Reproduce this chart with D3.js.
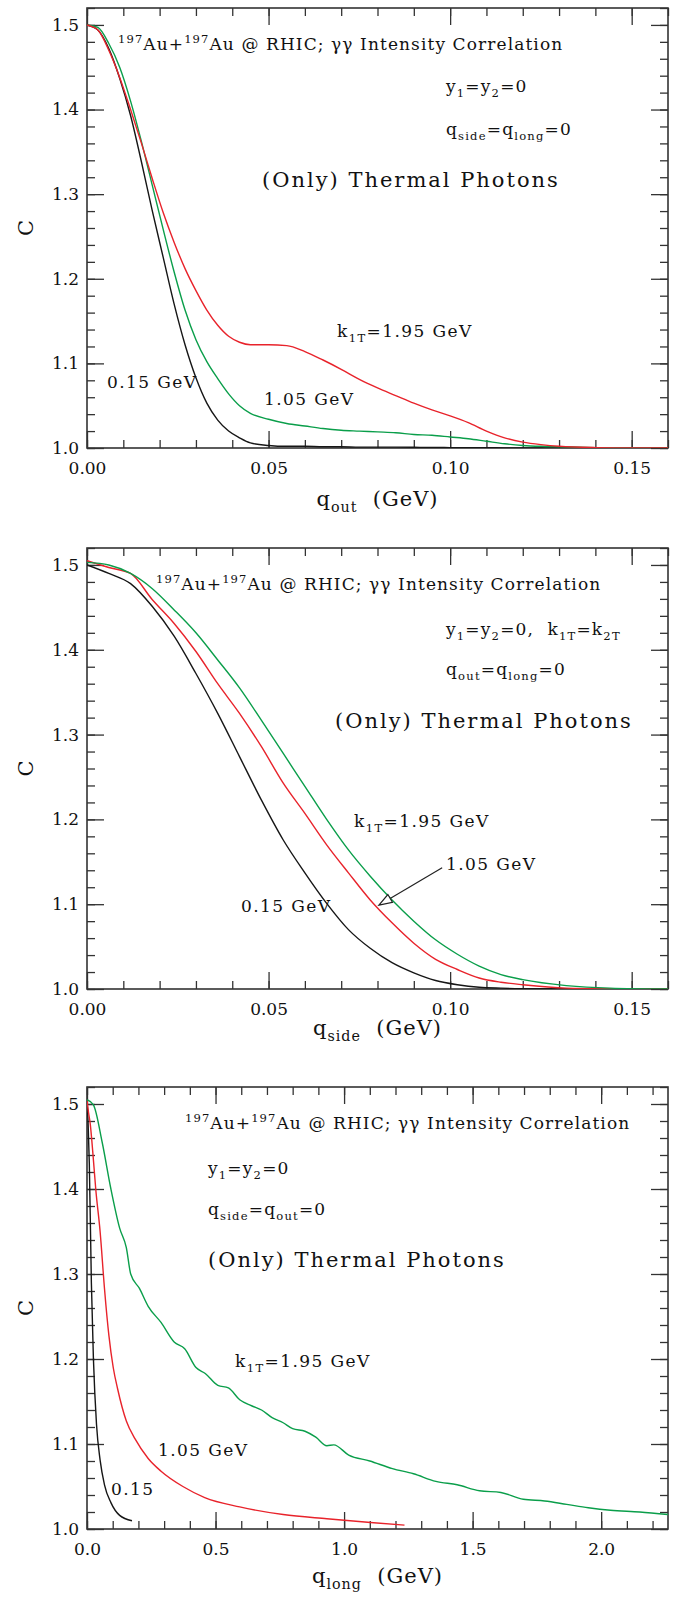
<!DOCTYPE html>
<html>
<head>
<meta charset="utf-8">
<script src="https://cdn.jsdelivr.net/npm/d3@7"></script>
<style>
  body { margin: 0; background: #fff; }
  text { font-family: "DejaVu Serif", serif; fill: #111; }
</style>
</head>
<body>
<svg id="chart" width="684" height="1598"></svg>
<script>
// ---------- data: C(q) for k1T = 0.15, 1.05, 1.95 GeV ----------
// q_out panel
var outQ = [0, 0.003, 0.006, 0.009, 0.012, 0.015, 0.018, 0.021, 0.024, 0.027, 0.030, 0.033, 0.036, 0.039,
  0.042, 0.045, 0.050, 0.055, 0.060, 0.065, 0.070, 0.075, 0.080, 0.085, 0.090, 0.095, 0.100, 0.105,
  0.110, 0.115, 0.120, 0.125, 0.130, 0.140, 0.150, 0.160];
var outK015 = [1.5, 1.494, 1.472, 1.437, 1.393, 1.338, 1.28, 1.225, 1.17, 1.122, 1.083, 1.053, 1.033, 1.02,
  1.012, 1.006, 1.003, 1.002, 1.002, 1.0015, 1.0015, 1.001, 1.001, 1.001, 1.0008, 1.0006, 1.0005, 1.0004,
  1.0003, 1.0002, 1.0001, 1.0, 1.0, 1.0, 1.0, 1.0];
var outK105 = [1.5, 1.497, 1.478, 1.45, 1.41, 1.362, 1.31, 1.258, 1.208, 1.163, 1.128, 1.102, 1.082, 1.064,
  1.05, 1.041, 1.034, 1.029, 1.026, 1.023, 1.021, 1.020, 1.019, 1.018, 1.016, 1.015, 1.013, 1.011,
  1.008, 1.005, 1.003, 1.002, 1.0015, 1.0005, 1.0002, 1.0];
var outK195 = [1.5, 1.494, 1.47, 1.438, 1.40, 1.36, 1.318, 1.278, 1.243, 1.212, 1.186, 1.163, 1.145, 1.132,
  1.125, 1.122, 1.122, 1.121, 1.114, 1.104, 1.093, 1.081, 1.071, 1.062, 1.053, 1.045, 1.038, 1.030,
  1.020, 1.012, 1.007, 1.004, 1.002, 1.0005, 1.0001, 1.0];

// q_side panel
var sideQ = [0, 0.006, 0.012, 0.018, 0.024, 0.030, 0.036, 0.042, 0.048, 0.054, 0.060, 0.066, 0.072, 0.078,
  0.084, 0.090, 0.096, 0.102, 0.108, 0.114, 0.120, 0.132, 0.144, 0.160];
var sideK015 = [1.50, 1.49, 1.478, 1.451, 1.416, 1.372, 1.325, 1.274, 1.223, 1.176, 1.137, 1.101, 1.07, 1.048,
  1.031, 1.019, 1.01, 1.005, 1.002, 1.001, 1.0005, 1.0002, 1.0, 1.0];
var sideK105 = [1.505, 1.497, 1.49, 1.459, 1.431, 1.398, 1.36, 1.325, 1.286, 1.243, 1.207, 1.17, 1.137, 1.105,
  1.078, 1.054, 1.035, 1.023, 1.013, 1.008, 1.005, 1.001, 1.0003, 1.0];
var sideK195 = [1.503, 1.5, 1.49, 1.472, 1.447, 1.42, 1.388, 1.355, 1.317, 1.278, 1.239, 1.2, 1.164, 1.133,
  1.105, 1.08, 1.058, 1.041, 1.027, 1.017, 1.011, 1.004, 1.001, 1.0];

// q_long panel (each curve has its own grid)
var longQ015 = [0, 0.004, 0.009, 0.017, 0.025, 0.037, 0.051, 0.068, 0.093, 0.127, 0.175];
var longK015 = [1.505, 1.48, 1.43, 1.29, 1.20, 1.123, 1.081, 1.052, 1.031, 1.016, 1.0097];
var longQ105 = [0, 0.006, 0.012, 0.025, 0.034, 0.051, 0.068, 0.085, 0.102, 0.119, 0.153, 0.187, 0.238, 0.288,
  0.373, 0.458, 0.594, 0.763, 0.933, 1.103, 1.235];
var longK105 = [1.505, 1.49, 1.478, 1.434, 1.40, 1.35, 1.283, 1.228, 1.19, 1.165, 1.127, 1.106, 1.083, 1.068,
  1.05, 1.037, 1.026, 1.017, 1.012, 1.0076, 1.0046];
var longQ195 = [0, 0.025, 0.059, 0.093, 0.127, 0.153, 0.17, 0.204, 0.238, 0.288, 0.339, 0.38, 0.424, 0.46,
  0.509, 0.55, 0.594, 0.64, 0.679, 0.72, 0.763, 0.80, 0.848, 0.89, 0.933, 0.96, 1.018, 1.1, 1.188, 1.27,
  1.357, 1.44, 1.527, 1.61, 1.697, 1.78, 1.866, 1.95, 2.036, 2.15, 2.26];
var longK195 = [1.505, 1.499, 1.455, 1.40, 1.354, 1.331, 1.30, 1.283, 1.262, 1.243, 1.22, 1.212, 1.19, 1.183,
  1.169, 1.166, 1.152, 1.145, 1.14, 1.131, 1.125, 1.118, 1.115, 1.108, 1.098, 1.099, 1.087, 1.08, 1.071, 1.065,
  1.056, 1.052, 1.045, 1.043, 1.035, 1.033, 1.029, 1.025, 1.022, 1.02, 1.017];

// axis ticks
var yMajor = [1.0, 1.1, 1.2, 1.3, 1.4, 1.5];
var qMajor = [0, 0.05, 0.10, 0.15];
var longMajor = [0, 0.5, 1.0, 1.5, 2.0];

var black = "#161616", red = "#e8232b", green = "#0a9e4a";

// ---------- helpers ----------
var svg = d3.select("#chart");
var left = 87, right = 668;

// text with ^{..} and _{..}
function richText(g, x, y, str, size, spacing, anchor) {
  var t = g.append("text").attr("x", x).attr("y", y)
    .style("font-size", size + "px")
    .style("letter-spacing", (spacing || 0) + "px")
    .style("white-space", "pre")
    .attr("text-anchor", anchor || "start");
  var pieces = str.split(/(\^\{[^}]*\}|_\{[^}]*\})/);
  var off = 0;
  pieces.forEach(function (s) {
    if (!s) return;
    var shift = 0, txt = s, small = false;
    if (s.indexOf("^{") == 0) { shift = -0.42 * size; txt = s.slice(2, -1); small = true; }
    else if (s.indexOf("_{") == 0) { shift = 0.3 * size; txt = s.slice(2, -1); small = true; }
    t.append("tspan").attr("dy", shift - off)
      .style("font-size", (small ? 0.68 * size : size) + "px")
      .text(txt);
    off = shift;
  });
  return t;
}

function range(a, b, step) {
  var out = [];
  for (var v = a; v <= b + 1e-9; v += step) out.push(+v.toFixed(4));
  return out;
}

function drawPanel(p) {
  var g = svg.append("g");
  var x = d3.scaleLinear().domain(p.xDomain).range([left, right]);
  var y = d3.scaleLinear().domain([1.0, 1.52]).range([p.bottom, p.top]);

  // ticks on all four sides, pointing inward
  var xMinor = range(p.xDomain[0], p.xDomain[1], p.xMinorStep);
  var yMinor = range(1.0, 1.52, 0.02);
  var axes = [
    [d3.axisBottom(x).tickValues(p.xMajor).tickFormat(d3.format(p.xFmt)), "translate(0," + p.bottom + ")", true],
    [d3.axisBottom(x).tickValues(xMinor).tickFormat(""), "translate(0," + p.bottom + ")", false],
    [d3.axisTop(x).tickValues(p.xMajor).tickFormat(""), "translate(0," + p.top + ")", true],
    [d3.axisTop(x).tickValues(xMinor).tickFormat(""), "translate(0," + p.top + ")", false],
    [d3.axisLeft(y).tickValues(yMajor).tickFormat(d3.format(".1f")), "translate(" + left + ",0)", true],
    [d3.axisLeft(y).tickValues(yMinor).tickFormat(""), "translate(" + left + ",0)", false],
    [d3.axisRight(y).tickValues(yMajor).tickFormat(""), "translate(" + right + ",0)", true],
    [d3.axisRight(y).tickValues(yMinor).tickFormat(""), "translate(" + right + ",0)", false]
  ];
  axes.forEach(function (a, i) {
    var ax = g.append("g").attr("transform", a[1])
      .call(a[0].tickSize(a[2] ? -17 : -8).tickPadding(a[2] ? 8 : 0));
    ax.select(".domain").remove();
    ax.selectAll("line").attr("stroke", "#333").attr("stroke-width", 1.3);
    ax.selectAll("text").style("font-family", "DejaVu Serif, serif")
      .style("font-size", "17px").attr("fill", "#111");
    if (i == 0) ax.selectAll("text").attr("y", 14);
  });

  // frame
  g.append("rect").attr("x", left).attr("y", p.top)
    .attr("width", right - left).attr("height", p.bottom - p.top)
    .attr("fill", "none").attr("stroke", "#333").attr("stroke-width", 1.6);

  // curves
  var clip = "clip" + p.id;
  g.append("clipPath").attr("id", clip).append("rect")
    .attr("x", left).attr("y", p.top).attr("width", right - left).attr("height", p.bottom - p.top);
  var line = d3.line().x(function (d) { return x(d[0]); }).y(function (d) { return y(d[1]); })
    .curve(d3.curveMonotoneX);
  p.series.forEach(function (s) {
    var pts = s.q.map(function (q, i) { return [q, s.c[i]]; });
    g.append("path").datum(pts).attr("d", line)
      .attr("clip-path", "url(#" + clip + ")")
      .attr("fill", "none").attr("stroke", s.color).attr("stroke-width", 1.4);
  });

  // y-axis title
  g.append("text").attr("transform", "translate(26," + ((p.top + p.bottom) / 2) + ") rotate(-90)")
    .attr("text-anchor", "middle").attr("dy", "0.35em")
    .style("font-size", "21px").text("C");
  // x-axis title
  richText(g, (left + right) / 2, p.titleY, p.xTitle, 21, 1, "middle");

  // annotations
  p.notes.forEach(function (n) {
    richText(g, n[0], n[1], n[2], n[3], n[4]);
  });

  if (p.arrow) {
    var a = p.arrow;
    var x1 = x(a[0]), y1 = y(a[1]), x2 = x(a[2]), y2 = y(a[3]);
    var ang = Math.atan2(y2 - y1, x2 - x1);
    var len = 13, half = 4.5;
    var bx = x2 - len * Math.cos(ang), by = y2 - len * Math.sin(ang);
    g.append("line").attr("x1", x1).attr("y1", y1).attr("x2", bx).attr("y2", by)
      .attr("stroke", "#222").attr("stroke-width", 1.2);
    var pts = [[x2, y2],
      [bx + half * Math.sin(ang), by - half * Math.cos(ang)],
      [bx - half * Math.sin(ang), by + half * Math.cos(ang)]];
    g.append("path").attr("d", "M" + pts.join("L") + "Z")
      .attr("fill", "#fff").attr("stroke", "#222").attr("stroke-width", 1.2);
  }
}

var title = "^{197}Au+^{197}Au @ RHIC; γγ Intensity Correlation";

// panel 1: here 1.95 GeV is red and 1.05 GeV green
drawPanel({
  id: 1, top: 8, bottom: 448, xDomain: [0, 0.16], xMajor: qMajor, xMinorStep: 0.01, xFmt: ".2f",
  titleY: 506, xTitle: "q_{out}  (GeV)",
  series: [
    { q: outQ, c: outK015, color: black },
    { q: outQ, c: outK105, color: green },
    { q: outQ, c: outK195, color: red }
  ],
  notes: [
    [118, 50, title, 17, 1.1],
    [446, 92, "y_{1}=y_{2}=0", 17, 1.2],
    [446, 135, "q_{side}=q_{long}=0", 17, 1.2],
    [262, 187, "(Only) Thermal Photons", 21, 2],
    [337, 337, "k_{1T}=1.95 GeV", 17, 1.4],
    [264, 405, "1.05 GeV", 17, 1.4],
    [107, 388, "0.15 GeV", 17, 1.4]
  ]
});

drawPanel({
  id: 2, top: 548, bottom: 989, xDomain: [0, 0.16], xMajor: qMajor, xMinorStep: 0.01, xFmt: ".2f",
  titleY: 1035, xTitle: "q_{side}  (GeV)",
  series: [
    { q: sideQ, c: sideK015, color: black },
    { q: sideQ, c: sideK105, color: red },
    { q: sideQ, c: sideK195, color: green }
  ],
  notes: [
    [156, 590, title, 17, 1.1],
    [446, 635, "y_{1}=y_{2}=0,  k_{1T}=k_{2T}", 17, 1.2],
    [446, 675, "q_{out}=q_{long}=0", 17, 1.2],
    [335, 728, "(Only) Thermal Photons", 21, 2],
    [354, 827, "k_{1T}=1.95 GeV", 17, 1.4],
    [446, 870, "1.05 GeV", 17, 1.4],
    [241, 912, "0.15 GeV", 17, 1.4]
  ],
  arrow: [0.0978, 1.143, 0.0804, 1.099]
});

drawPanel({
  id: 3, top: 1087, bottom: 1529, xDomain: [0, 2.26], xMajor: longMajor, xMinorStep: 0.1, xFmt: ".1f",
  titleY: 1583, xTitle: "q_{long}  (GeV)",
  series: [
    { q: longQ015, c: longK015, color: black },
    { q: longQ105, c: longK105, color: red },
    { q: longQ195, c: longK195, color: green }
  ],
  notes: [
    [185, 1129, title, 17, 1.1],
    [208, 1174, "y_{1}=y_{2}=0", 17, 1.2],
    [208, 1215, "q_{side}=q_{out}=0", 17, 1.2],
    [208, 1267, "(Only) Thermal Photons", 21, 2],
    [235, 1367, "k_{1T}=1.95 GeV", 17, 1.4],
    [158, 1456, "1.05 GeV", 17, 1.4],
    [111, 1495, "0.15", 17, 1.4]
  ]
});
</script>
</body>
</html>
